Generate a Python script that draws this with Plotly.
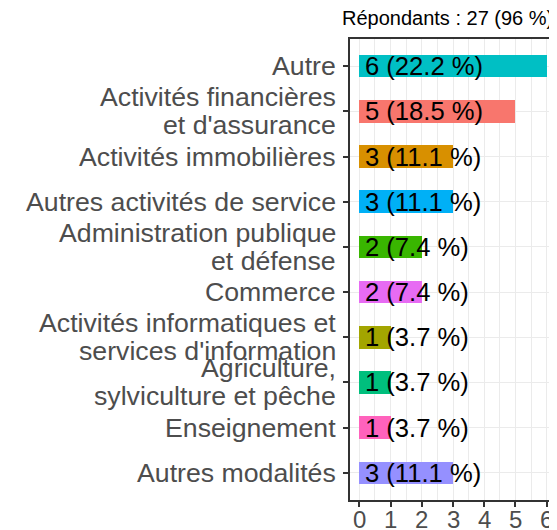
import plotly.graph_objects as go

categories = [
    "Autre",
    "Activités financières\net d'assurance",
    "Activités immobilières",
    "Autres activités de service",
    "Administration publique\net défense",
    "Commerce",
    "Activités informatiques et\nservices d'information",
    "Agriculture,\nsylviculture et pêche",
    "Enseignement",
    "Autres modalités",
]
counts = [6, 5, 3, 3, 2, 2, 1, 1, 1, 3]
percents = [22.2, 18.5, 11.1, 11.1, 7.4, 7.4, 3.7, 3.7, 3.7, 11.1]
colors = ["#00BFC4", "#F8766D", "#D89000", "#00B0F6", "#39B600",
          "#E76BF3", "#A3A500", "#00BF7D", "#FF62BC", "#9590FF"]
x_ticks = [0, 1, 2, 3, 4, 5, 6]
title_text = "Répondants : 27 (96 %)"

FONT = "Liberation Sans, Arial, sans-serif"
labels = [f"{c} ({p} %)" for c, p in zip(counts, percents)]
idx = list(range(len(categories)))

fig = go.Figure()
fig.add_trace(go.Bar(
    x=counts, y=idx, orientation="h", width=0.5,
    marker=dict(color=colors, line=dict(width=0)),
    hoverinfo="skip", showlegend=False,
))

# bar value labels
for i, lab in zip(idx, labels):
    fig.add_annotation(x=0, y=i, xref="x", yref="y", text=lab,
                       showarrow=False, xanchor="left", yanchor="middle",
                       xshift=4, font=dict(family=FONT, size=25.6, color="black"))

# category labels (tight line spacing, like the reference)
LINE = 28
for i, cat in zip(idx, categories):
    lines = cat.split("\n")
    n = len(lines)
    for j, ln in enumerate(lines):
        fig.add_annotation(x=0, y=i, xref="paper", yref="y", text=ln,
                           showarrow=False, xanchor="right", yanchor="middle",
                           xshift=-12, yshift=((n - 1) / 2 - j) * LINE,
                           font=dict(family=FONT, size=26.7, color="#4D4D4D"))

# x tick labels
for v in x_ticks:
    fig.add_annotation(x=v, y=0, xref="x", yref="paper", text=str(v),
                       showarrow=False, xanchor="center", yanchor="middle",
                       yshift=-19, font=dict(family=FONT, size=24, color="#4D4D4D"))

fig.add_annotation(xref="paper", yref="paper", x=1, y=1, xanchor="right", yanchor="bottom",
                   yshift=8, xshift=-1, showarrow=False, text=title_text,
                   font=dict(family=FONT, size=20, color="black"))

fig.update_layout(
    width=549, height=522,
    margin=dict(l=342, r=1, t=31, b=30, autoexpand=False),
    paper_bgcolor="white", plot_bgcolor="white",
    font=dict(family=FONT, size=20, color="#4D4D4D"),
    bargap=0,
)
fig.update_xaxes(
    range=[-0.3, 6.3], tickvals=x_ticks, showticklabels=False,
    showgrid=True, gridcolor="#EBEBEB", gridwidth=1.3,
    minor=dict(dtick=0.5, tick0=0, showgrid=True, gridcolor="#EBEBEB", gridwidth=0.9),
    showline=True, linecolor="#333333", linewidth=1.5, mirror=True,
    ticks="outside", ticklen=5, tickwidth=1.5, tickcolor="#333333",
    zeroline=False, automargin=False,
)
fig.update_yaxes(
    range=[len(categories) - 0.4, -0.6], tickvals=idx, showticklabels=False,
    showgrid=True, gridcolor="#EBEBEB", gridwidth=1.3,
    showline=True, linecolor="#333333", linewidth=1.5, mirror=True,
    ticks="outside", ticklen=5, tickwidth=1.5, tickcolor="#333333",
    zeroline=False, automargin=False,
)

fig.write_html("out.html")
